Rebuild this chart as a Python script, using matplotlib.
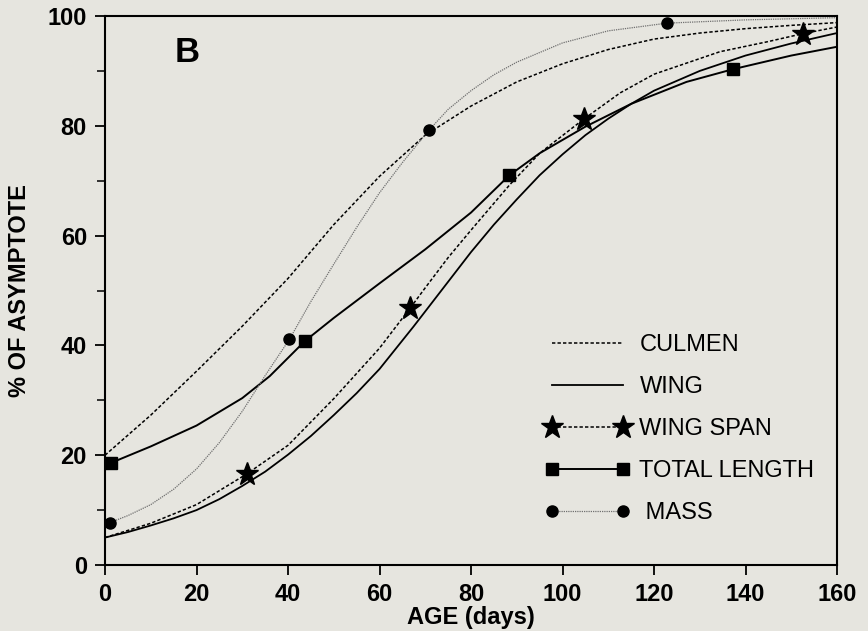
import matplotlib.pyplot as plt
import matplotlib.ticker as ticker
from matplotlib.lines import Line2D

plt.rcParams['font.family'] = ['Liberation Sans', 'DejaVu Sans']

# values (% of asymptote vs age in days)
culmen_x = [0, 10, 20, 30, 40, 50, 60, 70, 80, 90, 100, 110, 120, 130, 140, 150, 160]
culmen_y = [20, 27.3, 35.3, 43.5, 52.2, 62, 70.8, 78.3, 83.6, 88, 91.3, 93.9, 95.8, 96.9, 97.7, 98.3, 98.8]

wing_x = [0, 5, 10, 15, 20, 25, 30, 35, 40, 45, 50, 55, 60, 67.4, 70, 75, 80, 85, 90, 95,
          100, 105, 110, 115, 120, 130, 140, 150, 160]
wing_y = [5, 6, 7.2, 8.5, 10, 12, 14.4, 17, 20.1, 23.5, 27.3, 31.3, 35.7, 43.4, 46.2, 51.6, 57, 62, 66.6, 71,
          74.8, 78.3, 81.3, 84, 86.4, 90, 92.8, 95, 96.9]

span_x = [0, 10, 20, 31, 40, 50, 60, 66.7, 70, 75, 80, 88.5, 95, 104.6, 112.6, 120, 134.4, 144.7, 152.6, 160]
span_y = [5, 7.6, 11, 16.6, 21.8, 30.3, 39.5, 46.8, 50.5, 56, 61, 69.3, 75, 81.2, 86, 89.4, 93.5, 95.3, 96.8, 98]
span_mx = [31, 66.7, 104.6, 152.6]
span_my = [16.6, 46.8, 81.2, 96.8]

total_x = [1.3, 10, 20, 30, 36, 43.7, 50, 60, 70, 80, 88.4, 95, 104.9, 115, 127.1, 137.2, 150, 160]
total_y = [18.6, 21.6, 25.4, 30.4, 34.4, 40.8, 45, 51.3, 57.5, 64.2, 71, 75, 79.8, 84, 88, 90.3, 92.8, 94.4]
total_mx = [1.3, 43.7, 88.4, 137.2]
total_my = [18.6, 40.8, 71, 90.3]

mass_x = [1, 5, 10, 15, 20, 25, 30, 35, 40.3, 45, 50, 55, 60, 65, 70.8, 75, 80, 85, 90,
          100, 110, 122.8, 140, 160]
mass_y = [7.7, 9, 11, 13.8, 17.5, 22.3, 28, 34.5, 41.1, 48, 54.8, 61.5, 67.8, 73.3, 79.2, 83, 86.4, 89.3, 91.6,
          95.1, 97.3, 98.7, 99.3, 99.7]
mass_mx = [1, 40.3, 70.8, 122.8]
mass_my = [7.7, 41.1, 79.2, 98.7]

bg = '#e6e5df'
dash = (0, (2.2, 1.4))
fig = plt.figure(figsize=(8.68, 6.31), dpi=100, facecolor=bg)
ax = fig.add_axes([0.121, 0.1046, 0.8433, 0.87])
ax.set_facecolor(bg)

ax.plot(culmen_x, culmen_y, color='black', linewidth=1.1, linestyle=dash)
ax.plot(wing_x, wing_y, color='black', linewidth=1.3)
ax.plot(span_x, span_y, color='black', linewidth=1.1, linestyle=dash)
ax.plot(span_mx, span_my, linestyle='none', marker='*', markersize=17, color='black')
ax.plot(total_x, total_y, color='black', linewidth=1.4)
ax.plot(total_mx, total_my, linestyle='none', marker='s', markersize=8, color='black')
ax.plot(mass_x, mass_y, color='#707070', linewidth=0.9, linestyle=(0, (1, 0.8)))
ax.plot(mass_mx, mass_my, linestyle='none', marker='o', markersize=8, color='black')

ax.set_xlim(0, 160)
ax.set_ylim(0, 100)
ax.xaxis.set_major_locator(ticker.MultipleLocator(20))
ax.yaxis.set_major_locator(ticker.MultipleLocator(20))
ax.yaxis.set_minor_locator(ticker.MultipleLocator(10))
ax.tick_params(which='major', direction='out', length=7, width=1.3, labelsize=17, pad=6)
ax.tick_params(which='minor', direction='out', length=6, width=1.1)
for lab in ax.get_xticklabels() + ax.get_yticklabels():
    lab.set_fontweight('bold')
for s in ax.spines.values():
    s.set_linewidth(1.5)

ax.set_xlabel('AGE (days)', fontsize=17, fontweight='bold', labelpad=0)
ax.set_ylabel('% OF ASYMPTOTE', fontsize=17, fontweight='bold', labelpad=12)
ax.text(15.3, 96.3, 'B', fontsize=25, fontweight='bold', va='top', ha='left')

handles = [
    Line2D([], [], color='black', linewidth=1.1, linestyle=dash),
    Line2D([], [], color='black', linewidth=1.3),
    Line2D([], [], color='black', linewidth=1.1, linestyle=dash, marker='*', markersize=17),
    Line2D([], [], color='black', linewidth=1.4, marker='s', markersize=8),
    Line2D([], [], color='#707070', linewidth=0.9, linestyle=(0, (1, 0.8)), marker='o', markersize=8,
           markerfacecolor='black', markeredgecolor='black'),
]
labels = ['CULMEN', 'WING', 'WING SPAN', 'TOTAL LENGTH', ' MASS']
ax.legend(handles, labels, loc='upper left', bbox_to_anchor=(0.601, 0.421), frameon=False,
          fontsize=17, numpoints=2, handlelength=3.6, handletextpad=0.4, labelspacing=0.85,
          borderpad=0, borderaxespad=0)

plt.savefig('out.png', dpi=100, facecolor=bg)
